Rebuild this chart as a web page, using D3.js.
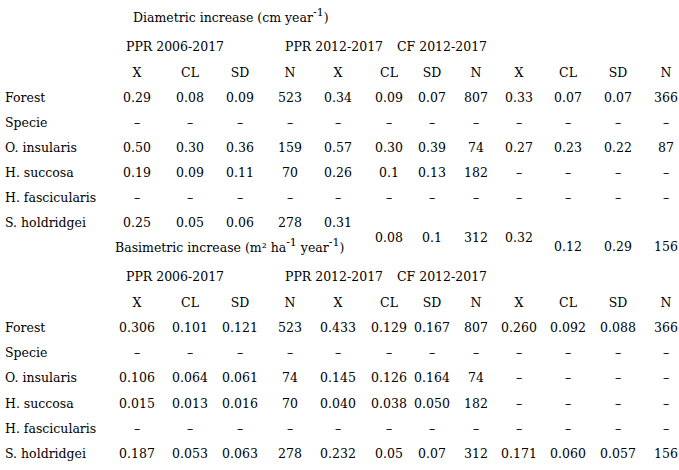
<!DOCTYPE html>
<html><head><meta charset="utf-8">
<script src="https://cdn.jsdelivr.net/npm/d3@7"></script>
<style>body{margin:0;background:#fff}text{font-family:"DejaVu Serif",serif;font-size:12.5px;fill:#000}</style>
</head><body><svg id="c" width="679" height="470"></svg>
<script>
const D = "–";
const groups = ["PPR 2006-2017","PPR 2012-2017","CF 2012-2017"];
const colHeads = ["X","CL","SD","N","X","CL","SD","N","X","CL","SD","N"];
const rowLabels = ["Forest","Specie","O. insularis","H. succosa","H. fascicularis","S. holdridgei"];
const diam = [
 ["0.29","0.08","0.09","523","0.34","0.09","0.07","807","0.33","0.07","0.07","366"],
 [D,D,D,D,D,D,D,D,D,D,D,D],
 ["0.50","0.30","0.36","159","0.57","0.30","0.39","74","0.27","0.23","0.22","87"],
 ["0.19","0.09","0.11","70","0.26","0.1","0.13","182",D,D,D,D],
 [D,D,D,D,D,D,D,D,D,D,D,D],
 ["0.25","0.05","0.06","278","0.31","","","","","","",""]
];
const diamLastA = ["0.08","0.1","312","0.32"];
const diamLastB = ["0.12","0.29","156"];
const basi = [
 ["0.306","0.101","0.121","523","0.433","0.129","0.167","807","0.260","0.092","0.088","366"],
 [D,D,D,D,D,D,D,D,D,D,D,D],
 ["0.106","0.064","0.061","74","0.145","0.126","0.164","74",D,D,D,D],
 ["0.015","0.013","0.016","70","0.040","0.038","0.050","182",D,D,D,D],
 [D,D,D,D,D,D,D,D,D,D,D,D],
 ["0.187","0.053","0.063","278","0.232","0.05","0.07","312","0.171","0.060","0.057","156"]
];
const svg = d3.select("#c");
const colCenters = [137,190,240,290,338,389,432,476,519,568,618,666];
const cx = d3.scaleOrdinal().domain(d3.range(12)).range(colCenters);
const groupX = [126,285,397];

function block(top, titleX, titleParts, data, rowStep){
  const t = svg.append("text").attr("x",titleX).attr("y",top);
  titleParts.forEach(p=>{
    const s=t.append("tspan").text(p[0]);
    if(p[1]) s.attr("dy",p[1]);
    if(p[2]) s.style("font-size","11px");
  });
  groups.forEach((g,i)=>svg.append("text").attr("x",groupX[i]).attr("y",top+29).text(g));
  colHeads.forEach((h,i)=>svg.append("text").attr("x",cx(i)).attr("y",top+55).attr("text-anchor","middle").text(h));
  rowLabels.forEach((r,j)=>{
    const y = top+80+j*rowStep;
    svg.append("text").attr("x",5).attr("y",y).text(r);
    data[j].forEach((v,i)=>{ if(v!=="") svg.append("text").attr("x",cx(i)).attr("y",y).attr("text-anchor","middle").text(v); });
  });
}
block(22,133,[["Diametric increase (cm year"],["-1",-6,1],[")",6]],diam,25);
diamLastA.forEach((v,k)=>svg.append("text").attr("x",cx(5+k)).attr("y",242).attr("text-anchor","middle").text(v));
diamLastB.forEach((v,k)=>svg.append("text").attr("x",cx(9+k)).attr("y",251).attr("text-anchor","middle").text(v));
block(252,115,[["Basimetric increase (m² ha"],["-1",-6,1],[" year",6],["-1",-6,1],[")",6]],basi,25.2);
</script></body></html>
